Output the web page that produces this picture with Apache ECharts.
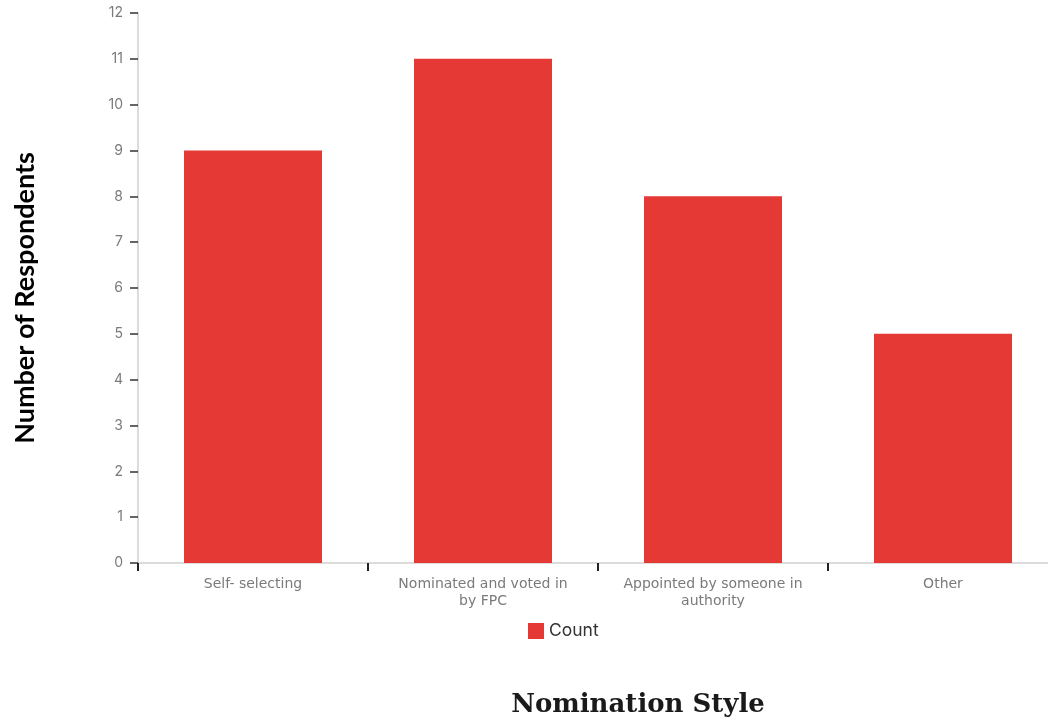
<!DOCTYPE html>
<html>
<head>
<meta charset="utf-8">
<script src="https://cdn.jsdelivr.net/npm/echarts@6/dist/echarts.min.js"></script>
<style>
  html, body { margin: 0; padding: 0; background: #fff; overflow: hidden; width: 1048px; height: 723px; }
  #chart { width: 1070px; height: 723px; }
</style>
</head>
<body>
<div id="chart"></div>
<script>
// Nomination style survey responses
const categories = ['Self- selecting', 'Nominated and voted in\nby FPC', 'Appointed by someone in\nauthority', 'Other'];
const counts = [9, 11, 8, 5];
const seriesName = 'Count';
const yTitle = 'Number of Respondents';
const xTitle = 'Nomination Style';

const chart = echarts.init(document.getElementById('chart'));
chart.setOption({
  animation: false,
  backgroundColor: '#ffffff',
  grid: { left: 138, right: 12, top: 13, bottom: 160, containLabel: false },
  legend: {
    data: [seriesName],
    left: 523, top: 617,
    itemWidth: 16, itemHeight: 16, itemGap: 8,
    icon: 'rect',
    textStyle: { color: '#333', fontSize: 17.5, fontFamily: 'Inter' }
  },
  xAxis: {
    type: 'category',
    data: categories,
    axisLine: { show: true, lineStyle: { color: '#dcdcdc', width: 2 } },
    axisTick: { show: true, interval: 0, length: 8, lineStyle: { color: '#222', width: 2 } },
    axisLabel: { interval: 0, hideOverlap: false, color: '#7a7a7a', fontSize: 14, fontFamily: '"DejaVu Sans"', margin: 13, lineHeight: 17 }
  },
  yAxis: {
    type: 'value',
    min: 0, max: 12, interval: 1,
    axisLine: { show: true, lineStyle: { color: '#dcdcdc', width: 2 } },
    axisTick: { show: true, length: 8, lineStyle: { color: '#333', width: 1.5 } },
    axisLabel: { color: '#7a7a7a', fontSize: 14, fontFamily: 'Inter', margin: 15 },
    splitLine: { show: false }
  },
  series: [{
    name: seriesName,
    type: 'bar',
    data: counts,
    barCategoryGap: '40%',
    itemStyle: { color: '#e53935' }
  }],
  graphic: [
    {
      type: 'text',
      x: 25, y: 298,
      rotation: Math.PI / 2,
      style: {
        text: yTitle,
        fill: '#000',
        font: 'bold 27px Lato',
        textAlign: 'center',
        textVerticalAlign: 'middle'
      }
    },
    {
      type: 'text',
      x: 638, y: 705,
      style: {
        text: xTitle,
        fill: '#1a1a1a',
        font: 'bold 26px "DejaVu Serif"',
        textAlign: 'center',
        textVerticalAlign: 'middle'
      }
    }
  ]
});
</script>
</body>
</html>
